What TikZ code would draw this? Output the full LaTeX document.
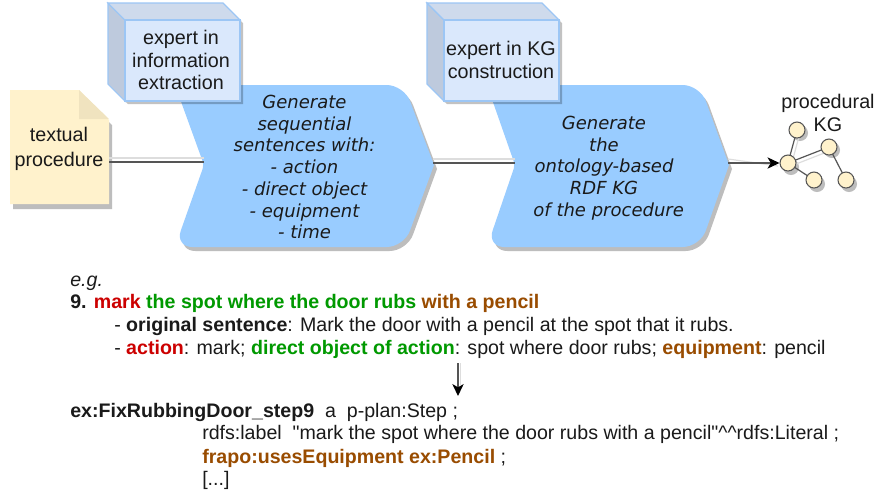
\documentclass[tikz,border=0pt]{standalone}
\usepackage{fontspec}
\setmainfont{Liberation Sans}
\newfontfamily\plainfont{Liberation Sans}
\newfontfamily\chevfont{DejaVu Sans}
\usetikzlibrary{arrows.meta}
\definecolor{chevblue}{HTML}{99CCFF}
\definecolor{boxfront}{HTML}{DAE8FC}
\definecolor{boxtop}{HTML}{CEDAEC}
\definecolor{boxside}{HTML}{BECADD}
\definecolor{boxline}{HTML}{9CC6F5}
\definecolor{docfill}{HTML}{FFF2CC}
\definecolor{docfold}{HTML}{F0E3BF}
\definecolor{shadowgray}{HTML}{BDBDBD}
\definecolor{txtred}{HTML}{CC0000}
\definecolor{txtgreen}{HTML}{009900}
\definecolor{txtbrown}{HTML}{994C00}
\definecolor{txtdark}{HTML}{1A1A1A}
\definecolor{linkgray}{HTML}{555555}
\definecolor{linkshade}{HTML}{DDDDDD}
\tikzset{
  lbl/.style={align=center,inner sep=0pt,text=txtdark,font=\fontsize{14.8}{17.2}\selectfont},
  doclbl/.style={align=center,inner sep=0pt,text=txtdark,font=\fontsize{14.8}{18.6}\selectfont},
  chevtext/.style={align=center,inner sep=0pt,text=txtdark,font=\chevfont\fontsize{13.5}{16.3}\selectfont\itshape},
  body/.style={anchor=base west,inner sep=0pt,text=txtdark,font=\fontsize{14.7}{17}\selectfont},
  link/.style={draw=linkgray,line width=0.9pt},
  linkback/.style={draw=linkshade,line width=0.9pt},
  kgnode/.style={circle,draw=linkgray,line width=0.8pt,fill=docfill,minimum size=12pt,inner sep=0pt},
  kgshadow/.style={circle,fill=shadowgray,minimum size=12pt,inner sep=0pt},
  headed/.style={-{Stealth[length=9pt,width=8.5pt,inset=2.5pt,color=black]},draw=linkgray,line width=0.9pt},
}
\newcommand{\chevshape}[5]{%
  \fill[#5,rounded corners=13pt] (#1,85) -- (#2,85) [sharp corners] -- (#3,165) [rounded corners=13pt] -- (#2,247) -- (#1,247) [rounded corners=3pt] -- (#4,165) [rounded corners=13pt] -- cycle;
}
\newcommand{\chevron}[4]{%
  % #1 left x, #2 right corner x, #3 tip x, #4 notch x
  \begin{scope}[shift={(3,4)}]
  \chevshape{#1}{#2}{#3}{#4}{shadowgray}
  \end{scope}
  \chevshape{#1}{#2}{#3}{#4}{chevblue}
}
\newcommand{\expertbox}[2]{%
  % #1 front left x, #2 front right x
  \fill[black,opacity=0.24] (#1-17+3,6) -- (#2-17+3,6) -- (#2+3,23) -- (#2+3,104) -- (#1+3,104) -- (#1-17+3,87) -- cycle;
  \fill[boxside,draw=boxline,line width=0.8pt] (#1-17,3) -- (#1,20) -- (#1,101) -- (#1-17,84) -- cycle;
  \fill[boxtop,draw=boxline,line width=0.8pt] (#1-17,3) -- (#2-17,3) -- (#2,20) -- (#1,20) -- cycle;
  \fill[boxfront,draw=boxline,line width=0.8pt] (#1,20) rectangle (#2,101);
}
\begin{document}
\begin{tikzpicture}[x=0.75pt,y=-0.75pt]
\useasboundingbox (0,0) rectangle (876,494);
\fill[white] (0,0) rectangle (876,494);
% document
\fill[shadowgray] (13,95) -- (82,95) -- (112,125) -- (112,209) -- (13,209) -- cycle;
\fill[docfill] (10,90) -- (79,90) -- (109,120) -- (109,204) -- (10,204) -- cycle;
\fill[docfold] (79,90) -- (109,119) -- (79,119) -- cycle;
\node[doclbl] (doc) at (59,148.5) {textual\\procedure};
\coordinate (docR) at (109,162);
% chevrons
\chevron{175}{404}{434}{204}
\chevron{487}{700}{729}{515}
\coordinate (chevAin) at (204,162);
\coordinate (chevAout) at (433,163);
\coordinate (chevBin) at (515,163);
\coordinate (chevBout) at (728,163);
% expert boxes
\expertbox{125}{240}
\expertbox{444}{559}
\node[lbl] (expA) at (181,60) {expert in\\information\\extraction};
\node[lbl] (expB) at (501,60) {expert in KG\\construction};
% chevron text
\node[chevtext] (genA) at (304.5,167) {Generate\\sequential\\sentences with:\\- action\\- direct object\\- equipment\\- time};
\node[chevtext] (genB) at (604,168) {Generate\\the\\ontology-based\\RDF KG\\\hspace*{7pt}of the procedure};
% connectors
\draw[linkback] ([yshift=3]docR) -- ([yshift=3]chevAin);
\draw[link] (docR) -- (chevAin);
\draw[linkback] ([yshift=3]chevAout) -- ([yshift=3]chevBin);
\draw[link] (chevAout) -- (chevBin);
% KG
\node[kgshadow] at (800,133) {};
\node[kgshadow] at (832,150) {};
\node[kgshadow] at (817,184) {};
\node[kgshadow] at (849,184) {};
\node[kgshadow] at (791,167) {};
\coordinate (kgC) at (788,163);
\coordinate (kgT) at (797,130);
\coordinate (kgR) at (829,147);
\coordinate (kgB) at (814,180);
\coordinate (kgF) at (846,180);
\draw[linkback] ([shift={(3,3)}]kgC) -- ([shift={(3,3)}]kgT);
\draw[linkback] ([shift={(3,3)}]kgC) -- ([shift={(3,3)}]kgR);
\draw[linkback] ([yshift=3]chevBout) -- (778,166);
\draw[link] (kgC) -- (kgT);
\draw[link] (kgC) -- (kgR);
\draw[link] (kgC) -- (kgB);
\draw[link] (kgR) -- (kgF);
\node[kgnode] (n1) at (kgT) {};
\node[kgnode] (n2) at (kgR) {};
\node[kgnode] (n3) at (kgB) {};
\node[kgnode] (n4) at (kgF) {};
\node[kgnode] (n0) at (kgC) {};
\draw[headed] (chevBout) -- (n0);
\node[lbl] (kgl) at (828,113) {procedural\\KG};
% body text
\node[body] (t1) at (70,286) {\itshape e.g.};
\node[body] (t2) at (70,308) {\bfseries 9. \textcolor{txtred}{mark} \textcolor{txtgreen}{the spot where the door rubs} \textcolor{txtbrown}{with a pencil}};
\node[body] (t3) at (114,331) {- \textbf{original sentence}: Mark the door with a pencil at the spot that it rubs.};
\node[body] (t4) at (114,354) {- \textbf{\textcolor{txtred}{action}}: mark; \textbf{\textcolor{txtgreen}{direct object of action}}: spot where door rubs; \textbf{\textcolor{txtbrown}{equipment}}: pencil};
\node[body] (t5) at (70,417) {\textbf{ex:FixRubbingDoor\_step9}\ \ a\ \ p-plan:Step ;};
\node[body] (t6) at (202,439) {\plainfont rdfs:label\ \ "mark the spot where the door rubs with a pencil"\char`\^\char`\^rdfs:Literal ;};
\node[body] (t7) at (202,463) {\textbf{\textcolor{txtbrown}{frapo:usesEquipment ex:Pencil}} ;};
\node[body] (t8) at (202,485) {[...]};
\coordinate (arrTop) at (458,363);
\coordinate (arrEnd) at (458,396);
\draw[linkshade,line width=0.9pt] ([xshift=2]arrTop) -- ([xshift=2]458,385);
\draw[headed] (arrTop) -- (arrEnd);
\end{tikzpicture}
\end{document}
